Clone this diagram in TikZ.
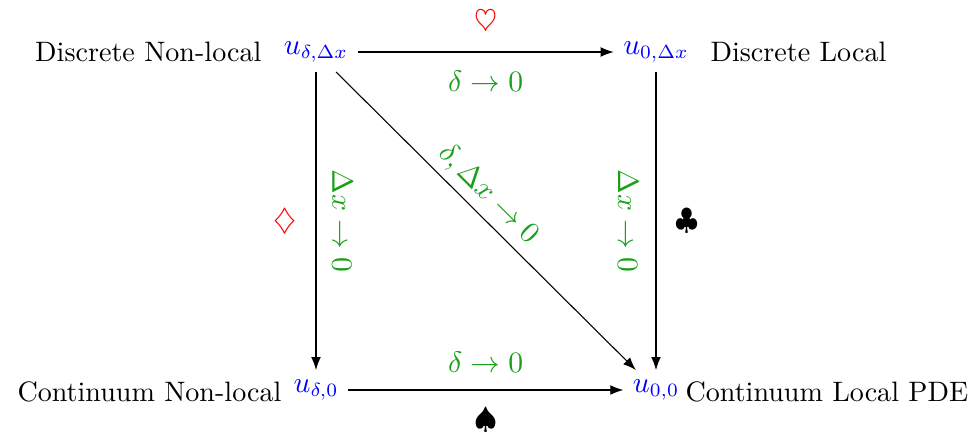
\documentclass[tikz,border=0pt]{standalone}
\usepackage{amsmath,amssymb}
\usetikzlibrary{arrows.meta}
\definecolor{limgreen}{RGB}{25,160,25}
\tikzset{>=Latex,every node/.style={font=\fontsize{10.7}{13}\selectfont},flow/.style={->},
  quant/.style={text=blue},side/.style={inner sep=0pt,font=\fontsize{10.4}{13}\selectfont},
  lim/.style={text=limgreen,font=\fontsize{11.2}{13}\selectfont}}

\begin{document}
\begin{tikzpicture}[x=.37pt,y=-.37pt]
\useasboundingbox (0,0) rectangle (969,434);
% Les quatre solutions aux coins du carre.
\node[quant] (udx) at (316,52){$u_{\delta,\Delta x}$};\node[quant] (u0x) at (656,52){$u_{0,\Delta x}$};
\node[quant] (ud0) at (316,390){$u_{\delta,0}$};\node[quant] (u00) at (656,390){$u_{0,0}$};
\node[side,anchor=east] (dnl) at (262,52){Discrete Non-local};\node[side,anchor=west] (dl) at (710,52){Discrete Local};
\node[side,anchor=east] (cnl) at (282,392){Continuum Non-local};\node[side,anchor=west] (cl) at (685,392){Continuum Local PDE};
\draw[flow] (udx)--(u0x) node[midway,above=3pt,text=red]{$\heartsuit$} node[midway,below=3.5pt,lim]{$\delta\to0$};
\draw[flow] (udx)--(ud0) node[midway,sloped,above=2.5pt,lim]{$\Delta x\to0$} node[midway,left=3.5pt,text=red]{$\diamondsuit$};
\draw[flow] (u0x)--(u00) node[midway,sloped,below=3pt,lim]{$\Delta x\to0$} node[midway,right=3.5pt]{$\clubsuit$};
\draw[flow] (ud0)--(u00) node[midway,above=3pt,lim]{$\delta\to0$} node[midway,below=3pt]{$\spadesuit$};
\draw[flow] (udx)--(u00) node[pos=.46,sloped,above=-1pt,lim]{$\delta,\Delta x\to0$};
\end{tikzpicture}
\end{document}
